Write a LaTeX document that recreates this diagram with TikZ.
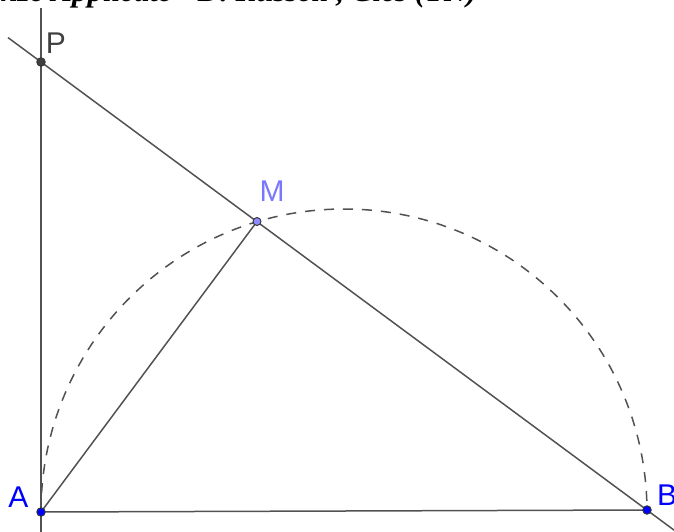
\documentclass[tikz,border=0pt]{standalone}
\usepackage{fontspec}
\setmainfont{Liberation Serif}
\newfontfamily\labelfont{Liberation Sans}
\begin{document}
\begin{tikzpicture}[x=1pt,y=-1pt,
  geoline/.style={draw=black!68, line width=1.5pt},
  arcline/.style={draw=black!68, line width=1.5pt, dash pattern=on 10pt off 9pt},
  lbl/.style={font=\labelfont\fontsize{30}{30}\selectfont, inner sep=0pt},
  ptdot/.style={circle, inner sep=0pt, minimum size=8.5pt, draw=black!80, line width=0.9pt}]
\useasboundingbox (0,0) rectangle (674,532);
\clip (0,0) rectangle (674,532);
% title (cut at top)
\node[anchor=base east, inner sep=0pt, font=\fontsize{31}{31}\selectfont\bfseries\itshape] (title) at (477,2) {Scienze Applicate - D. Russell , Cles (TN)};
% points
\coordinate (A) at (41,512);
\coordinate (B) at (647,510);
\coordinate (P) at (41,62);
\coordinate (M) at (257,221.5);
\coordinate (Vtop) at (41,8);
\coordinate (Vbot) at (41,540);
\coordinate (Ltop) at (8,37.6);
\coordinate (Lbot) at (680,534.5);
% lines
\draw[geoline] (Vtop) -- (Vbot);
\draw[geoline] (Ltop) -- (Lbot);
\draw[geoline] (A) -- (B);
\draw[geoline] (A) -- (M);
\draw[arcline] (A) arc[start angle=180, end angle=360, radius=303];
% dots
\node[ptdot, fill=black!75] (Pd) at (P) {};
\node[ptdot, fill=blue] (Ad) at (A) {};
\node[ptdot, fill=blue] (Bd) at (B) {};
\node[ptdot, fill={rgb,255:red,140;green,140;blue,255}, minimum size=8pt] (Md) at (M) {};
% labels
\node[lbl, text=black!75] (Pl) at (56,43.5) {P};
\node[lbl, text={rgb,255:red,120;green,120;blue,255}] (Ml) at (272,191.5) {M};
\node[lbl, text=blue] (Al) at (18.5,497.5) {A};
\node[lbl, text=blue] (Bl) at (667,495) {B};
\end{tikzpicture}
\end{document}
